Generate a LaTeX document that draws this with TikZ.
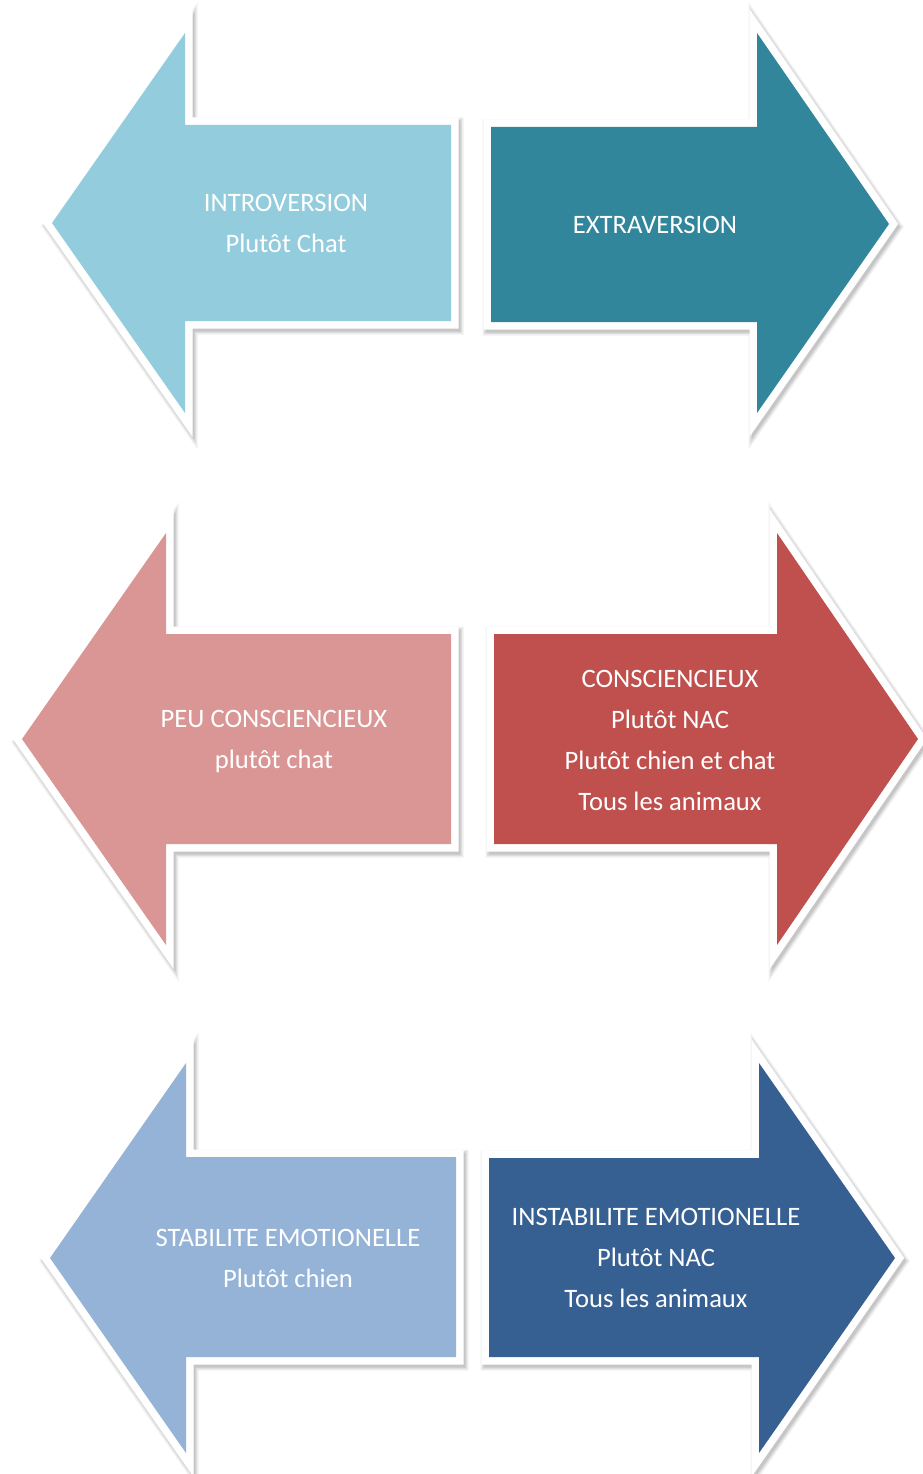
\documentclass[tikz,border=0pt]{standalone}
\usepackage{fontspec}
\setmainfont{Carlito}
\definecolor{cIntro}{HTML}{93CDDD}
\definecolor{cExtra}{HTML}{31869B}
\definecolor{cPeu}{HTML}{D99694}
\definecolor{cCons}{HTML}{C0504D}
\definecolor{cStab}{HTML}{95B3D7}
\definecolor{cInst}{HTML}{376092}
\tikzset{
  shadowlayer/.style={draw=black, fill=black, line join=miter},
  whiteborder/.style={draw=white, fill=white, line width=15pt, line join=miter},
  lbl/.style={text=white, align=center, inner sep=0pt, font=\fontsize{26.6pt}{41pt}\selectfont}
}
% left-pointing arrow: #1 colour, #2 tip x, #3 tip y, #4 head back x, #5 head top y,
% #6 shaft top y, #7 shaft right x, #8 shaft bottom y, #9 head bottom y
\newcommand\MyArrowL[9]{%
  \begin{scope}[shift={(2,3)}]
    \path[shadowlayer, line width=21pt, opacity=0.06] (#2,#3) -- (#4,#5) -- (#4,#6) -- (#7,#6) -- (#7,#8) -- (#4,#8) -- (#4,#9) -- cycle;
    \path[shadowlayer, line width=18pt, opacity=0.08] (#2,#3) -- (#4,#5) -- (#4,#6) -- (#7,#6) -- (#7,#8) -- (#4,#8) -- (#4,#9) -- cycle;
    \path[shadowlayer, line width=15pt, opacity=0.10] (#2,#3) -- (#4,#5) -- (#4,#6) -- (#7,#6) -- (#7,#8) -- (#4,#8) -- (#4,#9) -- cycle;
  \end{scope}
  \path[whiteborder] (#2,#3) -- (#4,#5) -- (#4,#6) -- (#7,#6) -- (#7,#8) -- (#4,#8) -- (#4,#9) -- cycle;
  \fill[#1] (#2,#3) -- (#4,#5) -- (#4,#6) -- (#7,#6) -- (#7,#8) -- (#4,#8) -- (#4,#9) -- cycle;
}
% right-pointing arrow: #1 colour, #2 shaft left x, #3 shaft top y, #4 head back x, #5 head top y,
% #6 tip x, #7 tip y, #8 shaft bottom y, #9 head bottom y
\newcommand\MyArrowR[9]{%
  \begin{scope}[shift={(2,3)}]
    \path[shadowlayer, line width=21pt, opacity=0.06] (#2,#3) -- (#4,#3) -- (#4,#5) -- (#6,#7) -- (#4,#9) -- (#4,#8) -- (#2,#8) -- cycle;
    \path[shadowlayer, line width=18pt, opacity=0.08] (#2,#3) -- (#4,#3) -- (#4,#5) -- (#6,#7) -- (#4,#9) -- (#4,#8) -- (#2,#8) -- cycle;
    \path[shadowlayer, line width=15pt, opacity=0.10] (#2,#3) -- (#4,#3) -- (#4,#5) -- (#6,#7) -- (#4,#9) -- (#4,#8) -- (#2,#8) -- cycle;
  \end{scope}
  \path[whiteborder] (#2,#3) -- (#4,#3) -- (#4,#5) -- (#6,#7) -- (#4,#9) -- (#4,#8) -- (#2,#8) -- cycle;
  \fill[#1] (#2,#3) -- (#4,#3) -- (#4,#5) -- (#6,#7) -- (#4,#9) -- (#4,#8) -- (#2,#8) -- cycle;
}
\begin{document}
\begin{tikzpicture}[x=1pt, y=-1pt]
  \useasboundingbox[fill=white] (0,0) rectangle (922,1474);
  % row 1
  \MyArrowL{cIntro}{52}{223}{185}{33}{125}{451}{321}{413}
  \MyArrowR{cExtra}{491}{127}{757}{33}{889}{224}{322}{413}
  % row 2
  \MyArrowL{cPeu}{22}{739}{166}{533}{634}{451}{844}{945}
  \MyArrowR{cCons}{494}{634}{777}{533}{918}{739}{844}{945}
  % row 3
  \MyArrowL{cStab}{50}{1258}{186}{1063}{1157}{456}{1357}{1453}
  \MyArrowR{cInst}{489}{1158}{759}{1063}{895}{1258}{1357}{1453}
  % labels
  \node[lbl] (intro) at (286,223.5) {INTROVERSION\\Plutôt Chat};
  \node[lbl] (extra) at (655,225) {EXTRAVERSION};
  \node[lbl] (peu) at (274,742) {PEU CONSCIENCIEUX\\plutôt chat};
  \node[lbl] (cons) at (670,740) {CONSCIENCIEUX\\Plutôt NAC\\Plutôt chien et chat\\Tous les animaux};
  \node[lbl] (stab) at (288,1258) {STABILITE EMOTIONELLE\\Plutôt chien};
  \node[lbl] (inst) at (656,1258) {INSTABILITE EMOTIONELLE\\Plutôt NAC\\Tous les animaux};
\end{tikzpicture}
\end{document}
